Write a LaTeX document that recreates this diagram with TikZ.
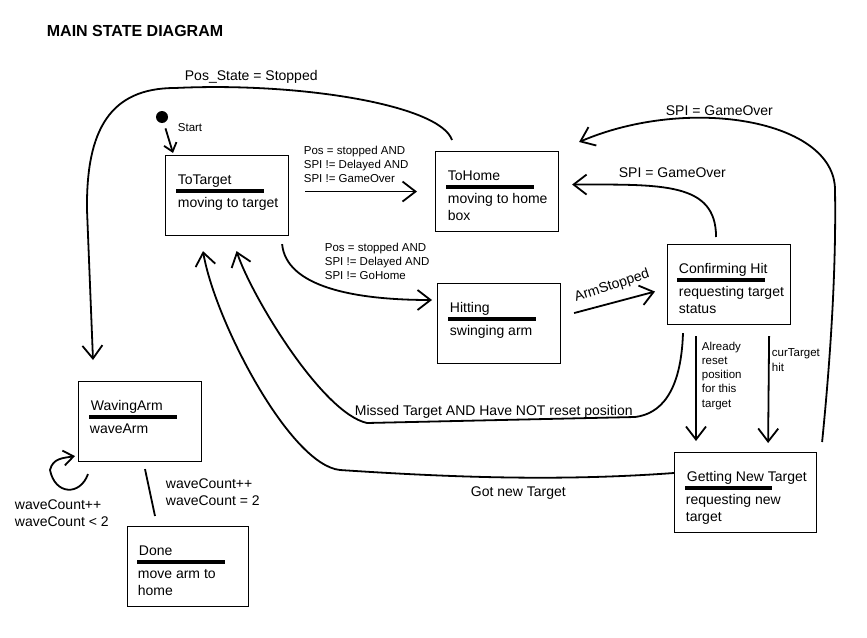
\documentclass[tikz,border=0pt]{standalone}
\usepackage{fontspec}
\setmainfont{Liberation Sans}
\usepackage{tikz}
\usetikzlibrary{arrows.meta}

\begin{document}
\begin{tikzpicture}[x=1pt, y=-1pt, line width=1.8pt,
    >={Straight Barb[length=13pt,width=20pt]},
    starttip/.style={-{Straight Barb[length=8pt,width=13pt]}},
    looptip/.style={-{Straight Barb[length=10pt,width=15pt]}},
    state/.style={draw, line width=1.1pt, rectangle, anchor=north west, minimum width=123pt, minimum height=80pt, inner sep=0pt},
    stitle/.style={anchor=base west, inner sep=0pt, font=\fontsize{14}{17}\selectfont},
    sdesc/.style={anchor=base west, inner sep=0pt, align=left, font=\fontsize{14}{17}\selectfont},
    bar/.style={line width=3.5pt},
    cond/.style={anchor=base west, inner sep=0pt, align=left, font=\fontsize{11.5}{14.2}\selectfont},
    trans/.style={anchor=base west, inner sep=0pt, align=left, font=\fontsize{14}{17.5}\selectfont}]
  \useasboundingbox (0,0) rectangle (867,637);

  \node[anchor=base west, inner sep=0pt, font=\fontsize{16}{19}\selectfont\bfseries] (title) at (46,36) {MAIN STATE DIAGRAM};

  % states (multi-line texts sit on their last baseline)
  \node[state] (totarget) at (165,155) {};
  \node[stitle] (totarget-t) at ([shift={(12,29)}]totarget.north west) {ToTarget};
  \draw[bar] ([shift={(11,36)}]totarget.north west) -- ++(88,0);
  \node[sdesc] (totarget-d) at ([shift={(12,52)}]totarget.north west) {moving to target};

  \node[state] (tohome) at (435,151) {};
  \node[stitle] (tohome-t) at ([shift={(12,29)}]tohome.north west) {ToHome};
  \draw[bar] ([shift={(11,36)}]tohome.north west) -- ++(88,0);
  \node[sdesc] (tohome-d) at ([shift={(12,69)}]tohome.north west) {moving to home\\box};

  \node[state] (hitting) at (437,283) {};
  \node[stitle] (hitting-t) at ([shift={(12,29)}]hitting.north west) {Hitting};
  \draw[bar] ([shift={(11,36)}]hitting.north west) -- ++(88,0);
  \node[sdesc] (hitting-d) at ([shift={(12,52)}]hitting.north west) {swinging arm};

  \node[state] (confirming) at (667,244) {};
  \node[stitle] (confirming-t) at ([shift={(11,29)}]confirming.north west) {Confirming Hit};
  \draw[bar] ([shift={(10,36)}]confirming.north west) -- ++(88,0);
  \node[sdesc] (confirming-d) at ([shift={(11,69)}]confirming.north west) {requesting target\\status};

  \node[state, minimum width=142pt] (getting) at (674,452) {};
  \node[stitle] (getting-t) at ([shift={(12,29)}]getting.north west) {Getting New Target};
  \draw[bar] ([shift={(11,36)}]getting.north west) -- ++(87,0);
  \node[sdesc] (getting-d) at ([shift={(11,69)}]getting.north west) {requesting new\\target};

  \node[state] (wavingarm) at (78,381) {};
  \node[stitle] (wavingarm-t) at ([shift={(12,29)}]wavingarm.north west) {WavingArm};
  \draw[bar] ([shift={(11,36)}]wavingarm.north west) -- ++(88,0);
  \node[sdesc] (wavingarm-d) at ([shift={(11,52)}]wavingarm.north west) {waveArm};

  \node[state, minimum width=121pt] (done) at (127,526) {};
  \node[stitle] (done-t) at ([shift={(11,29)}]done.north west) {Done};
  \draw[bar] ([shift={(10,36)}]done.north west) -- ++(88,0);
  \node[sdesc] (done-d) at ([shift={(10,69)}]done.north west) {move arm to\\home};

  % transitions
  \node[circle, fill, inner sep=0pt, minimum size=12pt] (start) at (162,117) {};
  \node[cond] (start-l) at (177,131) {Start};
  \draw[starttip, shorten <=5pt] (start) -- ([shift={(8,-2)}]totarget.north west);

  \draw[->] ([shift={(16,-4)}]totarget.east) -- ([shift={(-18,0)}]tohome.west);
  \node[cond] (c-home) at (303,182.5) {Pos = stopped AND\\SPI != Delayed AND\\SPI != GameOver};

  \draw[->] ([shift={(-7,8)}]totarget.south east) .. controls +(4,42) and +(-80,0) .. ([shift={(-5,17)}]hitting.north west);
  \node[cond] (c-hit) at (324,279.5) {Pos = stopped AND\\SPI != Delayed AND\\SPI != GoHome};

  \draw[->] ([shift={(17,-11)}]tohome.north west) .. controls +(-12,-35) and +(125,-6) .. (175,88) .. controls +(-65,0) and +(-1,-80) .. (87,210) -- ([shift={(15,-21)}]wavingarm.north west);
  \node[trans] (l-pos) at (184,80) {Pos\_State = Stopped};

  \draw[->] ([shift={(13,-10.5)}]hitting.east) -- ([shift={(-12,7)}]confirming.west);
  \node[trans, anchor=center, rotate=18] (l-arm) at (612,286) {ArmStopped};

  \draw[->] ([shift={(-13,-7)}]confirming.north) .. controls +(0,-55) and +(90,0) .. ([shift={(13,-7)}]tohome.east);
  \node[trans] (l-spi1) at (618,177) {SPI = GameOver};

  \draw[->] ([shift={(5,-10)}]getting.north east) .. controls +(11,-110) and +(1,60) .. (835,190) .. controls +(0,-70) and +(110,-47) .. ([shift={(20,-9)}]tohome.north east);
  \node[trans] (l-spi2) at (665,115) {SPI = GameOver};

  \draw[->] ([shift={(16,8)}]confirming.south west) .. controls +(-2,60) and +(25,-3) .. (635,417) -- (367,423) .. controls +(-45,-10) and +(15,45) .. ([shift={(9.5,15)}]totarget.south);
  \node[trans] (l-miss) at (354,415) {Missed Target AND Have NOT reset position};

  \draw[->] ([shift={(0,21)}]getting.north west) .. controls +(-110,8) and +(120,8) .. (340,470) .. controls +(-50,-5) and +(12,70) .. ([shift={(38,15)}]totarget.south west);
  \node[trans] (l-got) at (470,496) {Got new Target};

  \draw[->] ([shift={(29,11)}]confirming.south west) -- ([shift={(22,-11)}]getting.north west);
  \node[cond] (l-reset) at (701,407) {Already\\reset\\position\\for this\\target};
  \draw[->] ([shift={(-22,11)}]confirming.south east) -- ([shift={(-49,-9)}]getting.north east);
  \node[cond] (l-cur) at (771,371) {curTarget\\hit};

  \draw[looptip] ([shift={(10,12)}]wavingarm.south west) .. controls +(-8,22) and +(5,25) .. (50,470) .. controls +(3,-12) and +(-12,2) .. ([shift={(-3,-6)}]wavingarm.south west);
  \node[trans] (l-wave1) at (14,526.5) {waveCount++\\waveCount < 2};

  \draw ([shift={(67,7)}]wavingarm.south west) -- ([shift={(28,-10)}]done.north west);
  \node[trans] (l-wave2) at (165,505.5) {waveCount++\\waveCount = 2};
\end{tikzpicture}
\end{document}
